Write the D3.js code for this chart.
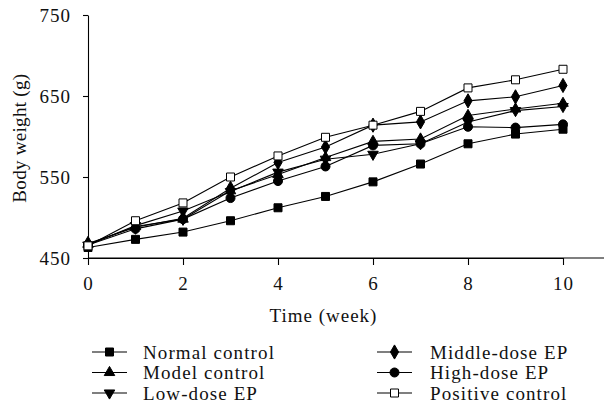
<!DOCTYPE html>
<html>
<head>
<meta charset="utf-8">
<script src="https://cdn.jsdelivr.net/npm/d3@7"></script>
<style>
    body { margin: 0; background: #fff; }
    text { font-family: "Liberation Serif", "Times New Roman", serif; fill: #111; letter-spacing: 1px; }
</style>
</head>
<body>
<div id="plot"></div>
<script>
// data
const weeks = [0, 1, 2, 3, 4, 5, 6, 7, 8, 9, 10];
const normalControl = [463, 473, 482, 496, 512, 526, 544, 566, 591, 603, 609];
const modelControl = [467, 489, 498, 533, 553, 574, 594, 597, 626, 634, 641];
const lowDose = [466, 490, 508, 532, 556, 572, 578, 591, 618, 632, 637];
const middleDose = [468, 488, 499, 536, 568, 587, 614, 618, 644, 649, 663];
const highDose = [466, 486, 498, 524, 545, 563, 589, 591, 612, 611, 615];
const positiveControl = [465, 496, 518, 550, 576, 599, 614, 631, 660, 670, 683];

const seriesNames = ["Normal control", "Model control", "Low-dose EP", "Middle-dose EP", "High-dose EP", "Positive control"];
const xTicks = [0, 2, 4, 6, 8, 10];
const yTicks = [450, 550, 650, 750];

var dimension = {
    width: 607,
    height: 418,
    margin: { top: 15, left: 88, bottom: 160, right: 44 }
}
dimension.boundedWidth = dimension.width - dimension.margin.left - dimension.margin.right;
dimension.boundedHeight = dimension.height - dimension.margin.top - dimension.margin.bottom;

const svg = d3.select("#plot").append("svg")
    .attr("width", dimension.width)
    .attr("height", dimension.height);

const bounded = svg.append("g")
    .attr("transform", `translate(${dimension.margin.left},${dimension.margin.top})`);

// scales
const xScaler = d3.scaleLinear().domain([0, 10]).range([0, dimension.boundedWidth]);
const yScaler = d3.scaleLinear().domain([450, 750]).range([dimension.boundedHeight, 0]);

// axes
const xAxisGenerator = d3.axisBottom(xScaler).tickValues(xTicks).tickSize(7).tickSizeOuter(0).tickPadding(12);
const yAxisGenerator = d3.axisLeft(yScaler).tickValues(yTicks).tickSize(5).tickSizeOuter(0).tickPadding(12);

const xAxis = bounded.append("g")
    .attr("transform", `translate(0,${dimension.boundedHeight})`)
    .call(xAxisGenerator);
const yAxis = bounded.append("g").call(yAxisGenerator);

[xAxis, yAxis].forEach(a => {
    a.selectAll("path, line").attr("stroke", "#000").attr("stroke-width", 1.1);
    a.selectAll("text").style("font-size", "19px").style("font-family", "Liberation Serif, serif").attr("fill", "#111");
});

// x axis runs on past the last tick
bounded.append("line")
    .attr("x1", xScaler(0)).attr("x2", dimension.width - dimension.margin.left - 3)
    .attr("y1", dimension.boundedHeight).attr("y2", dimension.boundedHeight)
    .attr("stroke", "#000").attr("stroke-width", 1.1);

// axis titles
bounded.append("text")
    .attr("x", xScaler(5) - 2)
    .attr("y", dimension.boundedHeight + 64)
    .attr("text-anchor", "middle")
    .style("font-size", "19px")
    .text("Time (week)");

svg.append("text")
    .attr("transform", `translate(26,${dimension.margin.top + yScaler(598)}) rotate(-90)`)
    .attr("text-anchor", "middle")
    .style("font-size", "19px")
    .style("letter-spacing", "0.3px")
    .text("Body weight (g)");

// symbol helpers
const symbols = [
    { type: d3.symbolSquare, size: 64, rot: 0, fill: "#000" },
    { type: d3.symbolTriangle, size: 48, rot: 0, fill: "#000" },
    { type: d3.symbolTriangle, size: 48, rot: 180, fill: "#000" },
    { type: d3.symbolDiamond, size: 58, rot: 0, fill: "#000" },
    { type: d3.symbolCircle, size: 64, rot: 0, fill: "#000" },
    { type: d3.symbolSquare, size: 64, rot: 0, fill: "#fff" }
];

function drawSymbol(g, s, x, y) {
    g.append("path")
        .attr("d", d3.symbol().type(s.type).size(s.size)())
        .attr("transform", `translate(${x},${y}) rotate(${s.rot})`)
        .attr("fill", s.fill)
        .attr("stroke", "#000")
        .attr("stroke-width", 1);
}

const allSeries = [normalControl, modelControl, lowDose, middleDose, highDose, positiveControl];

const lineGen = d3.line()
    .x((d, i) => xScaler(weeks[i]))
    .y(d => yScaler(d));

// lines first, then markers
for (let k = 0; k < allSeries.length; k++) {
    bounded.append("path")
        .datum(allSeries[k])
        .attr("d", lineGen)
        .attr("fill", "none")
        .attr("stroke", "#000")
        .attr("stroke-width", 1.1);
}
for (let k = 0; k < allSeries.length; k++) {
    for (let i = 0; i < weeks.length; i++) {
        drawSymbol(bounded, symbols[k], xScaler(weeks[i]), yScaler(allSeries[k][i]));
    }
}

// legend
const legend = svg.append("g");
const legendCols = [92, 377];
const legendRows = [352, 372.5, 393];
for (let k = 0; k < seriesNames.length; k++) {
    const lx = legendCols[Math.floor(k / 3)];
    const ly = legendRows[k % 3];
    legend.append("line")
        .attr("x1", lx).attr("x2", lx + 35)
        .attr("y1", ly).attr("y2", ly)
        .attr("stroke", "#000").attr("stroke-width", 1.1);
    drawSymbol(legend, symbols[k], lx + 17.5, ly);
    legend.append("text")
        .attr("x", k < 3 ? 143 : 430)
        .attr("y", ly)
        .attr("dy", "0.35em")
        .style("font-size", "19px")
        .style("letter-spacing", "1.1px")
        .text(seriesNames[k]);
}
</script>
</body>
</html>
